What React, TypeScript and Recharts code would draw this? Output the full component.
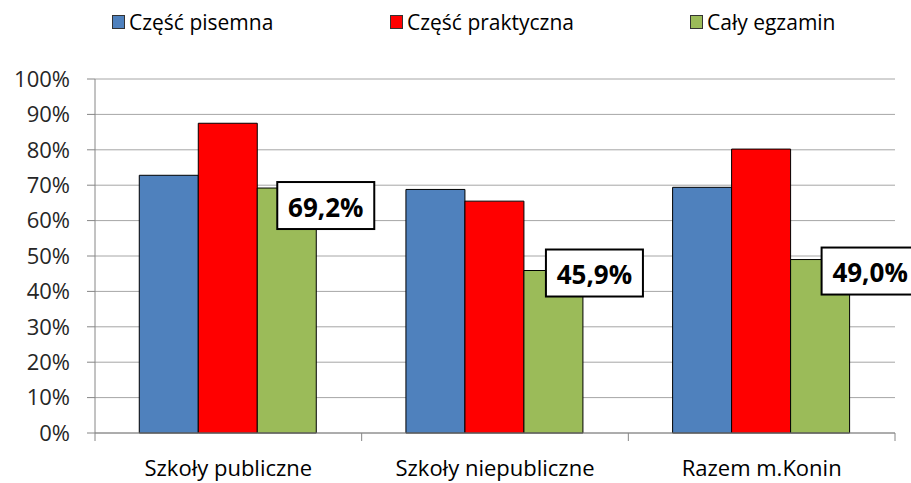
import React from "react";
import { Bar, BarChart, CartesianGrid, LabelList, XAxis, YAxis } from "recharts";

const categories = ["Szkoły publiczne", "Szkoły niepubliczne", "Razem m.Konin"];
const pisemna = [72.8, 68.8, 69.4];
const praktyczna = [87.5, 65.5, 80.2];
const calyEgzamin = [69.2, 45.9, 49.0];
const yTicks = [0, 10, 20, 30, 40, 50, 60, 70, 80, 90, 100];

const seriesNames = ["Część pisemna", "Część praktyczna", "Cały egzamin"];
const seriesColors = ["#4F81BD", "#FF0000", "#9BBB59"];

const data = categories.map((name, i) => ({
  name,
  pisemna: pisemna[i],
  praktyczna: praktyczna[i],
  caly: calyEgzamin[i],
}));

const W = 911;
const H = 483;
const FONT = "'Open Sans', sans-serif";
const PLOT_LEFT = 95;
const PLOT_RIGHT = 16;
const BAND = (W - PLOT_LEFT - PLOT_RIGHT) / categories.length;

// label boxes were dragged around by hand in the original
const labelDx = [20, 22, 31];
const labelDy = [-6, -21, -12];

const fmt = (v: number) => v.toFixed(1).replace(".", ",") + "%";

const ValueBox = (props: any) => {
  const { x, y, value, index } = props;
  const bx = Number(x) + labelDx[index];
  const by = Number(y) + labelDy[index];
  const bw = 97;
  const bh = 47;
  return (
    <g>
      <rect x={bx} y={by} width={bw} height={bh} fill="#fff" stroke="#000" strokeWidth={2} />
      <text
        x={bx + bw / 2}
        y={by + bh / 2 + 1}
        textAnchor="middle"
        dominantBaseline="central"
        fontFamily={FONT}
        fontWeight={700}
        fontSize={26}
        fill="#000"
      >
        {fmt(Number(value))}
      </text>
    </g>
  );
};

const CategoryTick = (props: any) => {
  const { x, y, payload, index } = props;
  return (
    <g>
      {index === 0 ? (
        <line x1={x - BAND / 2} x2={x - BAND / 2} y1={y} y2={y + 8} stroke="#868686" />
      ) : null}
      <line x1={x + BAND / 2} x2={x + BAND / 2} y1={y} y2={y + 8} stroke="#868686" />
      <text x={x} y={y + 43} textAnchor="middle" fontFamily={FONT} fontSize={22} fill="#000">
        {payload.value}
      </text>
    </g>
  );
};

const App = () => {
  return (
    <div style={{ position: "absolute", left: 0, top: 0, width: W, height: H, background: "#fff", overflow: "hidden" }}>
      <BarChart
        width={W}
        height={H}
        data={data}
        margin={{ top: 79, right: PLOT_RIGHT, left: 0, bottom: 0 }}
        barCategoryGap="16.6%"
        barGap={0}
      >
        <CartesianGrid vertical={false} stroke="#a6a6a6" />
        <XAxis
          dataKey="name"
          height={50}
          axisLine={{ stroke: "#868686" }}
          tickLine={false}
          tickSize={0}
          tickMargin={0}
          tick={<CategoryTick />}
          interval={0}
        />
        <YAxis
          width={PLOT_LEFT}
          domain={[0, 100]}
          ticks={yTicks}
          interval={0}
          tickFormatter={(v: number) => `${v}%`}
          axisLine={{ stroke: "#868686" }}
          tickLine={{ stroke: "#868686" }}
          tickSize={8}
          tickMargin={17}
          tick={{ fontFamily: FONT, fontSize: 22, fill: "#262626" }}
        />
        <Bar dataKey="pisemna" fill={seriesColors[0]} stroke="#000" strokeWidth={1} isAnimationActive={false} />
        <Bar dataKey="praktyczna" fill={seriesColors[1]} stroke="#000" strokeWidth={1} isAnimationActive={false} />
        <Bar dataKey="caly" fill={seriesColors[2]} stroke="#000" strokeWidth={1} isAnimationActive={false}>
          <LabelList dataKey="caly" content={<ValueBox />} />
        </Bar>
      </BarChart>

      {seriesNames.map((name, i) => (
        <div
          key={name}
          style={{
            position: "absolute",
            top: 8,
            left: [112, 390, 690][i],
            display: "flex",
            alignItems: "center",
            fontFamily: FONT,
            fontSize: 21,
            color: "#000",
            whiteSpace: "nowrap",
          }}
        >
          <span
            style={{
              width: 11,
              height: 12,
              background: seriesColors[i],
              border: "1px solid #333",
              marginRight: 4,
              display: "inline-block",
            }}
          />
          <span>{name}</span>
        </div>
      ))}
    </div>
  );
};

export default App;
